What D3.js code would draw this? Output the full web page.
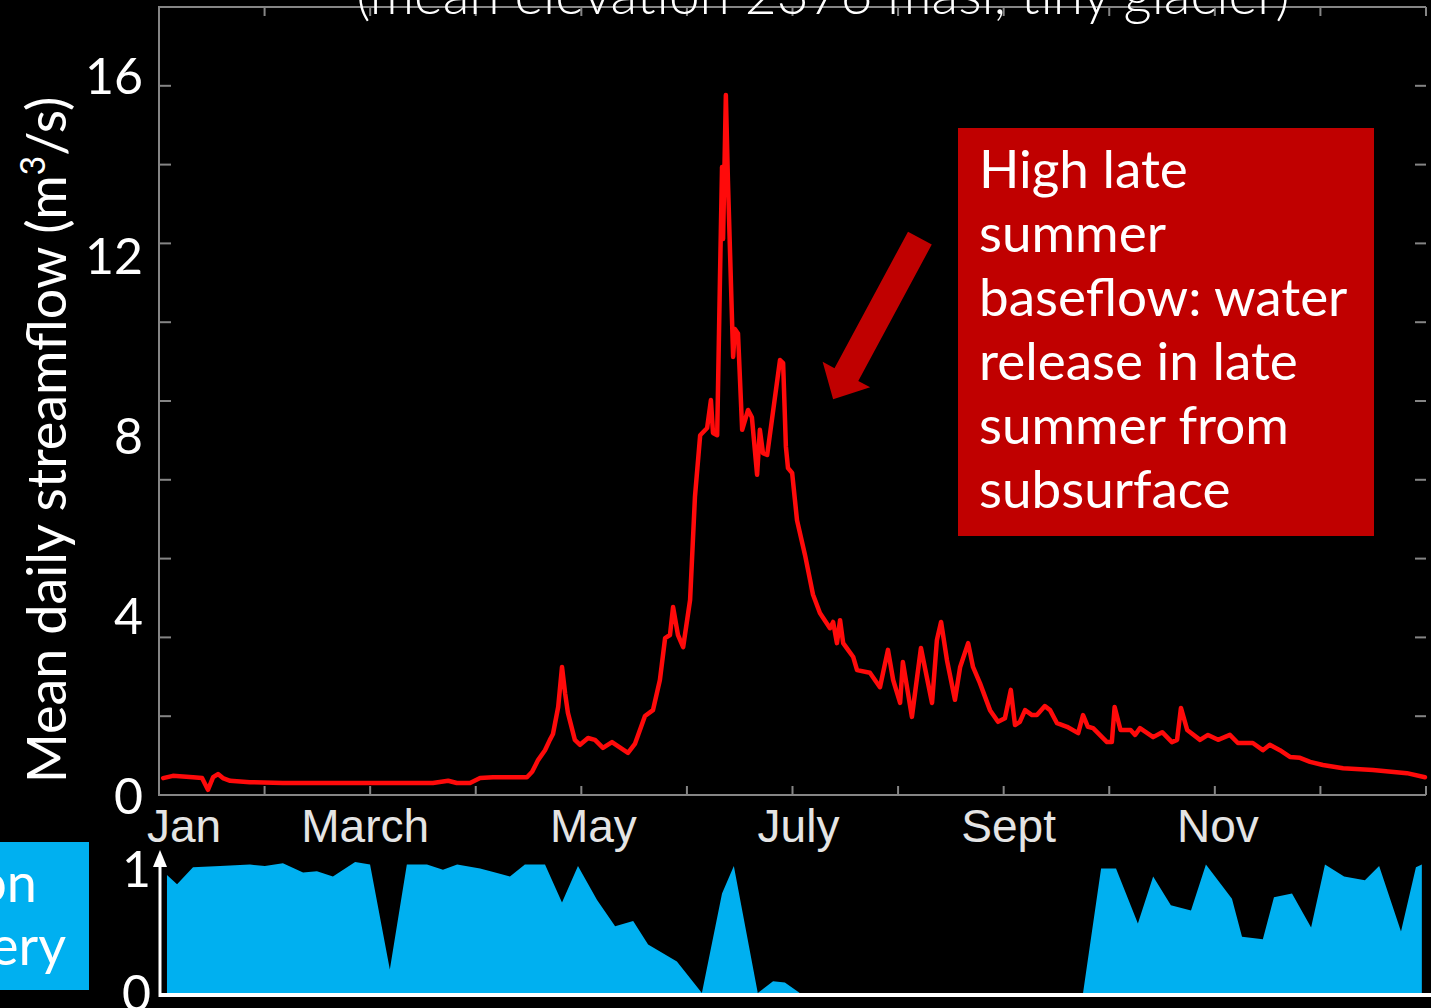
<!DOCTYPE html>
<html>
<head>
<meta charset="utf-8">
<script src="https://cdn.jsdelivr.net/npm/d3@7"></script>
<style>
  html, body { margin: 0; padding: 0; background: #000; overflow: hidden; }
  svg { display: block; }
</style>
</head>
<body>
<svg id="chart" width="1431" height="1008"></svg>
<script>
// Mean daily streamflow: day of year and discharge (m3/s)
const flowDay = [1.2, 4.0, 9.8, 12.4, 14.1, 15.6, 17.0, 18.4, 20.5, 26.2, 35.7, 45.5, 55.0, 64.5, 78.9,
  83.3, 85.8, 89.6, 92.5, 96.2, 106.0, 107.5, 109.2, 111.2, 112.6, 113.5, 115.0, 116.1, 117.0, 117.8,
  119.8, 121.3, 123.6, 125.6, 127.9, 130.5, 132.2, 135.1, 137.1, 140.0, 142.3, 144.3, 145.8, 147.2,
  148.1, 149.5, 151.0, 153.0, 154.4, 155.9, 157.9, 159.0, 159.6, 160.8, 161.6, 162.2, 162.5, 163.3,
  163.9, 165.0, 165.4, 165.9, 166.8, 168.0, 169.7, 170.8, 172.3, 173.1, 174.0, 175.2, 178.9, 179.8,
  180.6, 181.2, 182.4, 183.2, 183.8, 186.1, 188.4, 190.4, 193.3, 194.2, 195.3, 196.2, 197.1, 198.5,
  200.0, 201.1, 204.8, 207.7, 210.0, 211.5, 213.5, 214.3, 216.9, 219.5, 222.7, 224.1, 225.3, 227.0,
  229.3, 230.8, 233.1, 234.5, 236.5, 239.4, 241.7, 243.7, 245.4, 246.6, 248.0, 249.5, 251.5, 252.9,
  255.2, 256.7, 258.7, 261.6, 264.8, 266.2, 267.6, 269.1, 273.1, 274.5, 275.3, 277.0, 279.9, 281.2,
  282.6, 286.4, 289.0, 291.8, 293.3, 294.4, 296.2, 299.9, 302.2, 305.1, 308.5, 310.8, 315.1, 318.0,
  320.0, 322.9, 325.8, 328.7, 331.6, 335.3, 341.1, 349.7, 359.5, 364.7];
const flowValue = [0.42, 0.47, 0.44, 0.42, 0.16, 0.44, 0.51, 0.42, 0.36, 0.33, 0.31, 0.31, 0.31, 0.31, 0.31,
  0.36, 0.31, 0.31, 0.42, 0.44, 0.44, 0.56, 0.82, 1.04, 1.27, 1.40, 2.00, 2.89, 2.30, 1.87,
  1.27, 1.16, 1.31, 1.27, 1.09, 1.22, 1.13, 0.98, 1.18, 1.80, 1.93, 2.60, 3.53, 3.60,
  4.22, 3.60, 3.33, 4.38, 6.67, 8.04, 8.20, 8.82, 8.09, 8.04, 11.5, 14.0, 12.4, 15.6,
  13.7, 10.8, 9.78, 10.4, 10.3, 8.16, 8.60, 8.44, 7.16, 8.16, 7.64, 7.60, 9.71, 9.64,
  7.78, 7.31, 7.20, 6.60, 6.15, 5.38, 4.50, 4.09, 3.75, 3.89, 3.42, 3.93, 3.42, 3.27,
  3.11, 2.82, 2.76, 2.44, 3.27, 2.60, 2.09, 3.00, 1.78, 3.31, 2.09, 3.49, 3.89, 3.04,
  2.16, 2.89, 3.42, 2.89, 2.53, 1.93, 1.67, 1.75, 2.38, 1.60, 1.67, 1.93, 1.82, 1.82,
  2.02, 1.93, 1.64, 1.56, 1.42, 1.82, 1.56, 1.53, 1.22, 1.22, 2.00, 1.49, 1.49, 1.38,
  1.53, 1.33, 1.44, 1.22, 1.27, 1.98, 1.49, 1.27, 1.38, 1.27, 1.38, 1.20, 1.20, 1.04,
  1.16, 1.04, 0.89, 0.87, 0.78, 0.71, 0.64, 0.60, 0.53, 0.44];

// Snow cover fraction from satellite composites: day of year and fraction (0-1)
const snowDay = [2.3, 5.2, 9.8, 17.6, 26.2, 30.5, 35.7, 41.5, 45.5, 50.1, 56.5, 60.8, 66.5, 71.4, 77.2,
  81.8, 85.9, 92.5, 98.2, 101.1, 105.4, 111.2, 116.1, 120.7, 126.2, 131.4, 136.6, 140.9, 149.2,
  156.4, 162.2, 165.6, 172.5, 176.9, 180.3, 184.6, 266.2, 271.4, 275.7, 282.0, 286.4, 291.5, 297.3,
  301.6, 309.1, 312.0, 318.0, 321.2, 326.4, 331.9, 335.9, 341.4, 347.4, 351.5, 357.8, 362.1, 363.8];
const snowFraction = [0.90, 0.83, 0.96, 0.97, 0.98, 0.97, 0.99, 0.92, 0.93, 0.89, 1.00, 0.98, 0.18, 0.98, 0.98,
  0.94, 0.98, 0.95, 0.91, 0.89, 0.98, 0.98, 0.69, 0.97, 0.71, 0.51, 0.55, 0.37, 0.24,
  0.0, 0.76, 0.97, 0.0, 0.09, 0.08, 0.0, 0.0, 0.95, 0.95, 0.53, 0.89, 0.67, 0.63,
  0.98, 0.72, 0.43, 0.41, 0.73, 0.76, 0.50, 0.98, 0.89, 0.86, 0.97, 0.47, 0.96, 0.98];

const monthLabels = ["Jan", "March", "May", "July", "Sept", "Nov"];
const monthLabelIndex = [0, 2, 4, 6, 8, 10];
const flowTickLabels = [0, 4, 8, 12, 16];
const snowTickLabels = [0, 1];
const titleText = "(mean elevation 2376 masl, tiny glacier)";
const noteLines = ["High late", "summer", "baseflow: water", "release in late", "summer from", "subsurface"];
const sideLines = ["on", "ery"];

const svg = d3.select("#chart");
svg.append("rect").attr("width", 1431).attr("height", 1008).attr("fill", "#000");

const sans = "Lato, 'Noto Sans', sans-serif";
const arial = "'Liberation Sans', Arial, sans-serif";

// Scales
const x = d3.scaleLinear().domain([0, 365]).range([159, 1426]);
const y = d3.scaleLinear().domain([0, 16]).range([797, 77]);
const yFrame = d3.scaleLinear().domain([0, 20]).range([795, 7]);
const ySnow = d3.scaleLinear().domain([0, 1]).range([993, 862]);
const monthDays = d3.range(13).map(i => i * 365 / 12);

// Plot frame with inward ticks
const frame = svg.append("g").attr("stroke", "#858585").attr("stroke-width", 2).attr("fill", "none");
frame.append("path").attr("d", `M${x(365)},${yFrame(20)}H${x(0)}V${yFrame(0)}H${x(365)}`);
frame.selectAll("line.bt").data(monthDays).join("line").attr("class", "bt")
  .attr("x1", d => x(d)).attr("x2", d => x(d)).attr("y1", yFrame(0)).attr("y2", yFrame(0) - 9);
frame.selectAll("line.tt").data(monthDays).join("line").attr("class", "tt")
  .attr("x1", d => x(d)).attr("x2", d => x(d)).attr("y1", yFrame(20)).attr("y2", yFrame(20) + 9);
const frameTicks = d3.range(0, 21, 2);
frame.selectAll("line.lt").data(frameTicks).join("line").attr("class", "lt")
  .attr("x1", x(0)).attr("x2", x(0) + 12).attr("y1", d => yFrame(d)).attr("y2", d => yFrame(d));
frame.selectAll("line.rt").data(frameTicks).join("line").attr("class", "rt")
  .attr("x1", x(365)).attr("x2", x(365) - 11).attr("y1", d => yFrame(d)).attr("y2", d => yFrame(d));

// Title (partly above the page edge)
svg.append("text").attr("x", 823).attr("y", 14).attr("text-anchor", "middle")
  .attr("font-family", sans).attr("font-weight", 300).attr("font-size", 55).attr("fill", "#fff")
  .text(titleText);

// Streamflow line
const flow = flowDay.map((d, i) => [d, flowValue[i]]);
svg.append("path").datum(flow)
  .attr("fill", "none").attr("stroke", "#ff0a0a").attr("stroke-width", 4.5)
  .attr("stroke-linejoin", "round").attr("stroke-linecap", "round")
  .attr("d", d3.line().x(d => x(d[0])).y(d => y(d[1])));

// Y tick labels
svg.append("g").selectAll("text").data(flowTickLabels).join("text")
  .attr("x", 143).attr("y", d => y(d) + 17).attr("text-anchor", "end")
  .attr("font-family", sans).attr("font-size", 50).attr("fill", "#fff")
  .text(d => d);

// Y axis title
const yt = svg.append("text").attr("transform", "translate(66,440) rotate(-90)")
  .attr("text-anchor", "middle").attr("font-family", sans).attr("font-size", 54).attr("fill", "#fff");
yt.append("tspan").text("Mean daily streamflow (m");
yt.append("tspan").attr("font-size", 34).attr("dy", -21).text("3");
yt.append("tspan").attr("dy", 21).text("/s)");

// Month labels, nudged off their tick so the first one stays inside the page
const labelNudge = [0, -5, 12, 6, 5, 3];
svg.append("g").selectAll("text").data(monthLabels).join("text")
  .attr("x", (d, i) => i === 0 ? x(monthDays[0]) - 12 : x(monthDays[monthLabelIndex[i]]) + labelNudge[i])
  .attr("y", 842)
  .attr("text-anchor", (d, i) => i === 0 ? "start" : "middle")
  .attr("font-family", arial).attr("font-size", 46).attr("fill", "#e4e4e4")
  .text(d => d);

// Annotation box
const note = svg.append("g");
note.append("rect").attr("x", 958).attr("y", 128).attr("width", 416).attr("height", 408).attr("fill", "#c00000");
note.selectAll("text").data(noteLines).join("text")
  .attr("x", 979).attr("y", (d, i) => 188 + i * 64)
  .attr("font-family", sans).attr("font-size", 53).attr("fill", "#fff")
  .text(d => d);

// Annotation arrow pointing at the late summer recession
(function drawArrow() {
  const tail = [x(219.2), y(12.42)], tip = [x(194.2), y(8.84)];
  const dx = tip[0] - tail[0], dy = tip[1] - tail[1], len = Math.hypot(dx, dy);
  const ux = dx / len, uy = dy / len, nx = -uy, ny = ux;
  const w = 13.5, hw = 27, hl = 28;
  const bx = tip[0] - ux * hl, by = tip[1] - uy * hl;
  const pts = [
    [tail[0] + nx * w, tail[1] + ny * w], [bx + nx * w, by + ny * w], [bx + nx * hw, by + ny * hw],
    tip, [bx - nx * hw, by - ny * hw], [bx - nx * w, by - ny * w], [tail[0] - nx * w, tail[1] - ny * w]
  ];
  svg.append("path").attr("d", "M" + pts.map(p => p.join(",")).join("L") + "Z").attr("fill", "#c00000");
})();

// Snow cover panel
const snow = snowDay.map((d, i) => [d, snowFraction[i]]);
svg.append("path").datum(snow).attr("fill", "#00b0f0")
  .attr("d", d3.area().x(d => x(d[0])).y0(ySnow(0)).y1(d => ySnow(d[1])));
svg.append("line").attr("x1", 160).attr("x2", 1431).attr("y1", 995).attr("y2", 995)
  .attr("stroke", "#fff").attr("stroke-width", 4);
svg.append("line").attr("x1", 160).attr("x2", 160).attr("y1", 997).attr("y2", 860)
  .attr("stroke", "#fff").attr("stroke-width", 3);
svg.append("path").attr("d", "M160,850L153,867L167,867Z").attr("fill", "#fff");
svg.append("g").selectAll("text").data(snowTickLabels).join("text")
  .attr("x", 151).attr("y", d => ySnow(d) + (d === 1 ? 25 : 18)).attr("text-anchor", "end")
  .attr("font-family", sans).attr("font-size", 50).attr("fill", "#fff")
  .text(d => d);

// Side label box
svg.append("rect").attr("x", -10).attr("y", 842).attr("width", 99).attr("height", 148).attr("fill", "#00b0f0");
svg.append("g").selectAll("text").data(sideLines).join("text")
  .attr("x", (d, i) => i === 0 ? 37 : 66).attr("y", (d, i) => 902 + i * 63).attr("text-anchor", "end")
  .attr("font-family", sans).attr("font-size", 54).attr("fill", "#fff")
  .text(d => d);
</script>
</body>
</html>
